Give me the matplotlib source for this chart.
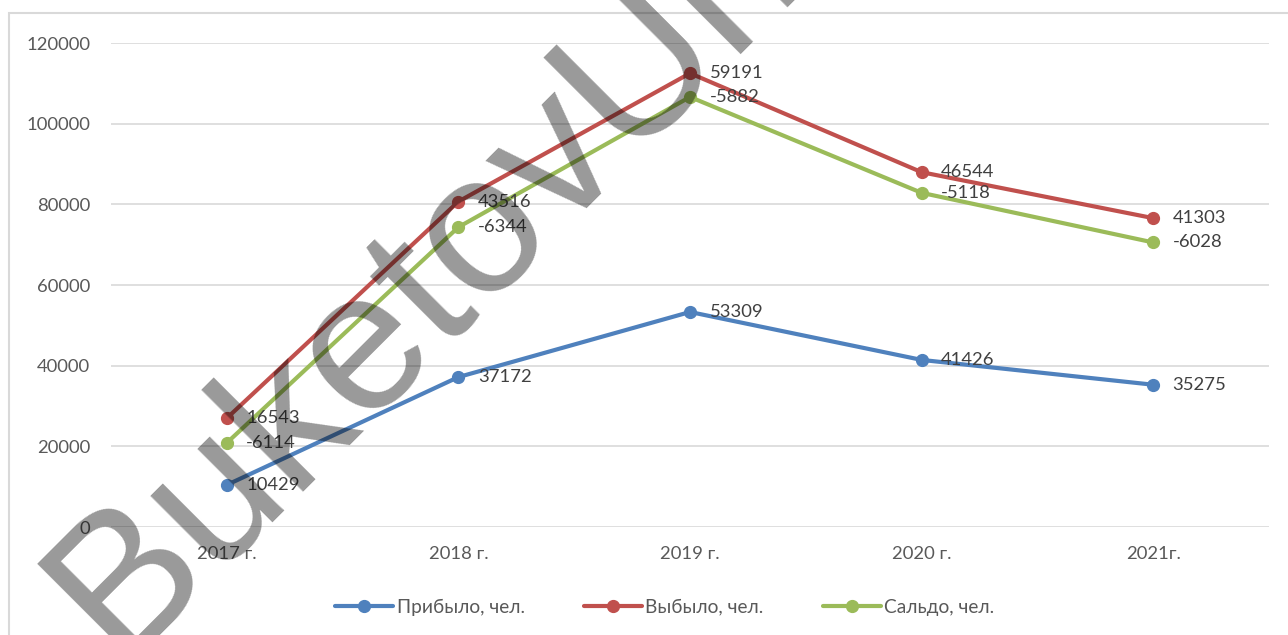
import matplotlib
matplotlib.use("Agg")
import matplotlib.pyplot as plt
from matplotlib.patches import Rectangle
import numpy as np

years = ["2017 г.", "2018 г.", "2019 г.", "2020 г.", "2021г."]
arrived = [10429, 37172, 53309, 41426, 35275]
departed = [16543, 43516, 59191, 46544, 41303]
balance = [-6114, -6344, -5882, -5118, -6028]
series_names = ["Прибыло, чел.", "Выбыло, чел.", "Сальдо, чел."]
y_ticks = [0, 20000, 40000, 60000, 80000, 100000, 120000]

colors = ["#4F81BD", "#C0504D", "#9BBB59"]
plt.rcParams['font.family'] = ['Lato', 'DejaVu Sans']

W, H = 1288, 635
fig = plt.figure(figsize=(W / 100, H / 100), dpi=100)
ax = fig.add_axes([111 / W, 108 / H, 1158 / W, 484 / H])

x = np.arange(len(years))
# stacked line chart (Excel style)
s1 = np.array(arrived, dtype=float)
s2 = s1 + np.array(departed)
s3 = s2 + np.array(balance)
stacks = [s1, s2, s3]
raw = [arrived, departed, balance]

for i, (yy, vals) in enumerate(zip(stacks, raw)):
    ax.plot(x, yy, color=colors[i], lw=3.0, marker='o', markersize=8.5,
            label=series_names[i], solid_capstyle='round', zorder=3)
    for xi, yi, v in zip(x, yy, vals):
        ax.annotate(str(v), (xi, yi), xytext=(14, 0), textcoords='offset points',
                    ha='left', va='center', fontsize=13.3, color='#404040', zorder=4)

ax.set_xlim(-0.5, len(years) - 0.5)
ax.set_ylim(0, 120000)
ax.set_yticks(y_ticks)
ax.set_yticklabels([str(t) for t in y_ticks])
ax.set_xticks(x)
ax.set_xticklabels(years)
ax.tick_params(axis='both', length=0, labelsize=13.3, labelcolor='#595959')
ax.tick_params(axis='y', pad=15)
ax.tick_params(axis='x', pad=14)
ax.grid(axis='y', color='#D9D9D9', lw=1.2)
ax.set_axisbelow(True)
for sp in ax.spines.values():
    sp.set_visible(False)

leg = fig.legend(loc='center', bbox_to_anchor=(665 / W, 28 / H), ncol=3,
                 frameon=False, fontsize=13.8, handlelength=3.0,
                 handletextpad=0.2, columnspacing=3.1)
for t in leg.get_texts():
    t.set_color('#595959')

# chart area border
fig.patches.append(Rectangle((9 / W, -0.1), 1.2, (H - 13) / H + 0.1,
                             transform=fig.transFigure, fill=False,
                             edgecolor='#D9D9D9', lw=1.5))

# watermark
fig.text(118 / W, -26 / H, "BuketovUni", rotation=45, rotation_mode='anchor',
         ha='left', va='baseline', fontsize=143, family='Liberation Sans',
         color='black', alpha=0.4, zorder=10)

fig.savefig("out.png", dpi=100)
